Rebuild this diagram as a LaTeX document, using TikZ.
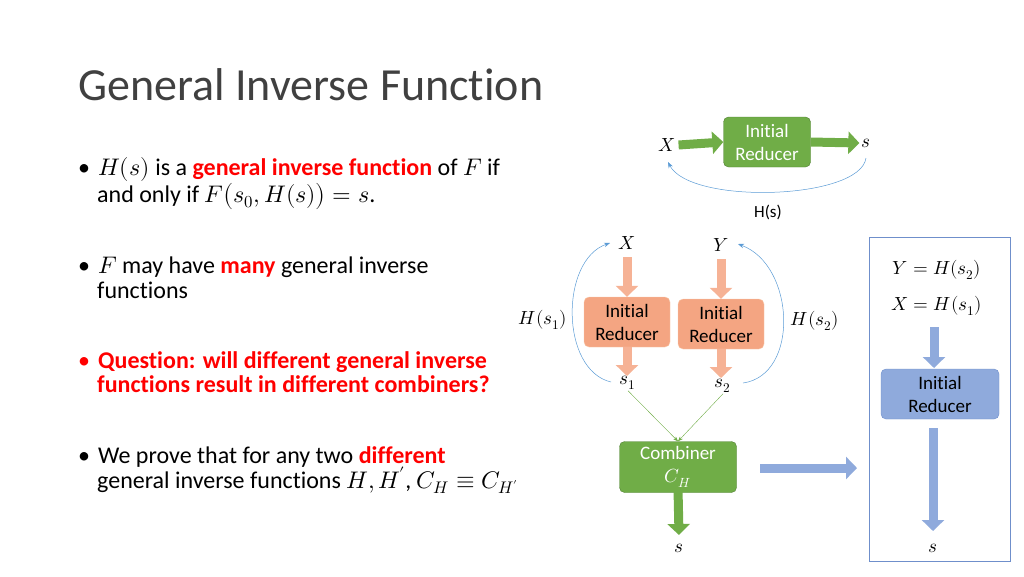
\documentclass[tikz,border=0pt]{standalone}
\usepackage{fontspec}
\setmainfont{Carlito}[Ligatures=NoCommon]
\usepackage{unicode-math}
\setmathfont{Latin Modern Math}
\usetikzlibrary{arrows.meta}
\definecolor{gfill}{HTML}{70AD47}\definecolor{gdraw}{HTML}{507E32}
\definecolor{ofill}{HTML}{F4A582}\definecolor{odraw}{HTML}{F8CBAD}
\definecolor{bfill}{HTML}{8FAADC}\definecolor{bdraw}{HTML}{6F8FCB}
\definecolor{thin}{HTML}{5B9BD5}\definecolor{redt}{HTML}{FF0000}
\definecolor{titlec}{HTML}{404040}
\begin{document}
\begin{tikzpicture}[x=1pt,y=-1pt,
  box/.style={rounded corners=5pt,minimum width=#1,align=center,font=\fontsize{19}{23}\selectfont,inner sep=2pt},
  gbox/.style={box=87pt,fill=gfill,draw=gdraw,text=white,minimum height=50pt},
  obox/.style={box=86pt,fill=ofill,draw=odraw,text=black,minimum height=50pt},
  bbox/.style={box=118pt,fill=bfill,draw=bdraw,text=black,minimum height=50pt},
  blk/.style={line width=9pt,-{Triangle[length=11pt,width=22pt]}},
  garr/.style={blk,draw=gfill},
  oarr/.style={blk,draw=ofill!85},
  barr/.style={blk,draw=bfill},
  curve/.style={draw=thin,line width=0.5pt,-{Stealth[length=6pt]}},
  lbl/.style={font=\fontsize{19}{22}\selectfont,inner sep=1pt},
  txt/.style={font=\fontsize{24}{29}\selectfont,anchor=west,align=left,inner sep=0pt}]
\useasboundingbox (0,0) rectangle (1024,576);
\node[anchor=base west,font=\fontsize{46}{52}\selectfont,text=titlec,inner sep=0] (title) at (78,100) {General Inverse Function};
% bullets
\node[txt,anchor=base west] (b1) at (78,175) {•\hspace{8pt}$H(s)$ is a \textcolor{redt}{\textbf{general inverse function}} of $F$ if};
\node[txt,anchor=base west] (b1b) at (97,202) {and only if $F\big(s_0,H(s)\big)=s$.};
\node[txt,anchor=base west] (b2) at (78,273) {•\hspace{8pt}$F$ may have \textcolor{redt}{\textbf{many}} general inverse};
\node[txt,anchor=base west] (b2b) at (97,298) {functions};
\node[txt,anchor=base west,text=redt] (b3) at (78,368) {•\hspace{8pt}\textbf{Question: will different general inverse}};
\node[txt,anchor=base west,text=redt] (b3b) at (97,392) {\textbf{functions result in different combiners?}};
\node[txt,anchor=base west] (b4) at (78,463) {•\hspace{8pt}We prove that for any two \textcolor{redt}{\textbf{different}}};
\node[txt,anchor=base west] (b4b) at (97,488) {general inverse functions $H,H^{\kern-1pt\prime}$, $C_H\equiv C_{H^{\kern-1pt\prime}}$};
% top
\node[gbox] (ir0) at (767,142) {Initial\\Reducer};
\node[lbl] (x0) at (667,145) {$X$};
\node[lbl] (s0) at (866,143) {$s$};
\draw[garr] ([xshift=2pt]x0.east) -- (ir0.west);
\draw[garr] (ir0.east) -- ([xshift=-1pt]s0.west);
\draw[curve] (866,158) .. controls (860,200) and (690,205) .. (668,162);
\node[font=\fontsize{17}{20}\selectfont] (hs) at (768,212) {H(s)};
% middle
\node[obox] (ir1) at (627,322) {Initial\\Reducer};
\node[obox] (ir2) at (721,324) {Initial\\Reducer};
\node[lbl] (x1) at (627,243) {$X$};
\node[lbl] (y1) at (721,245) {$Y$};
\node[lbl] (s1) at (628,383) {$s_1$};
\node[lbl] (s2) at (723,386) {$s_2$};
\draw[oarr] (627,257) -- (ir1.north);
\draw[oarr] (721,259) -- (ir2.north);
\draw[oarr] (ir1.south) -- (627,376);
\draw[oarr] (ir2.south) -- (721,378);
\draw[curve] (611,382) .. controls (560,370) and (560,260) .. (610,243);
\draw[curve] (743,383) .. controls (800,375) and (795,265) .. (738,244);
\node[lbl] (h1) at (543,320) {$H(s_1)$};
\node[lbl] (h2) at (815,321) {$H(s_2)$};
\node[gbox,minimum width=117pt,minimum height=51pt] (comb) at (678,467) {Combiner\\$C_H$};
\draw[draw=gfill,line width=0.4pt,-{Stealth[length=5pt]}] (s1.south) -- (comb.north);
\draw[draw=gfill,line width=0.4pt,-{Stealth[length=5pt]}] (s2.south) -- (comb.north);
\node[lbl] (s3) at (679,548) {$s$};
\draw[garr] ([yshift=4pt]comb.south) -- (679,535);
\draw[barr] (760,468) -- (857,468);
% right frame
\node[draw=bdraw,line width=1pt,minimum width=141pt,minimum height=324pt,inner sep=0] (frame) at (939.5,399) {};
\node[lbl] (eq1) at (937,270) {$Y=H(s_2)$};
\node[lbl] (eq2) at (937,306) {$X=H(s_1)$};
\node[bbox,minimum width=118pt] (ir3) at (940,394) {Initial\\Reducer};
\draw[barr] (934,327) -- (934,368);
\node[lbl] (s4) at (933,548) {$s$};
\draw[barr] (933,428) -- (933,531);
\end{tikzpicture}
\end{document}
